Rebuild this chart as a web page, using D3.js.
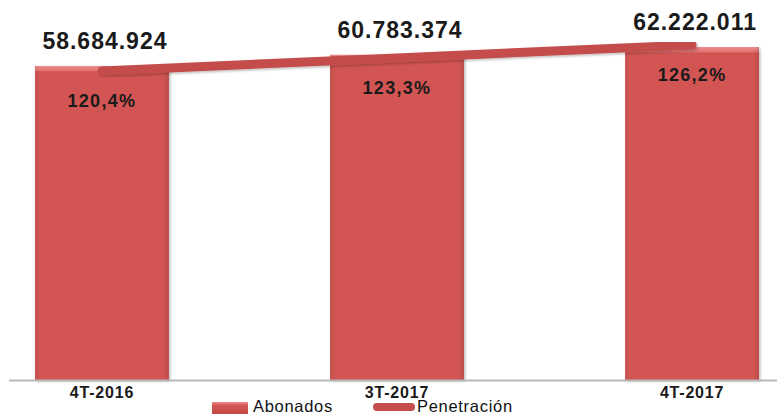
<!DOCTYPE html>
<html>
<head>
<meta charset="utf-8">
<script src="https://cdn.jsdelivr.net/npm/d3@7"></script>
<style>
  html, body { margin: 0; padding: 0; background: #fff; }
  svg { display: block; font-family: "Liberation Sans", Arial, sans-serif; }
</style>
</head>
<body>
<svg id="chart"></svg>
<script>
// Chart data
const categories = ['4T-2016', '3T-2017', '4T-2017'];
const abonados = [58684924, 60783374, 62222011];
const penetracion = [120.4, 123.3, 126.2];
const valueLabels = ['58.684.924', '60.783.374', '62.222.011'];
const pctLabels = ['120,4%', '123,3%', '126,2%'];
const legendLabels = ['Abonados', 'Penetración'];

const width = 777, height = 416;
const barColor = '#d25553';
const lineColor = '#c44d4c';

const svg = d3.select('#chart')
  .attr('width', width)
  .attr('height', height)
  .attr('viewBox', `0 0 ${width} ${height}`);

const defs = svg.append('defs');
const grad = defs.append('linearGradient')
  .attr('id', 'barGrad')
  .attr('x1', 0).attr('x2', 0).attr('y1', 0).attr('y2', 1);
grad.append('stop').attr('offset', '0').attr('stop-color', '#ee8c8a');
grad.append('stop').attr('offset', '0.014').attr('stop-color', '#e37573');
grad.append('stop').attr('offset', '0.018').attr('stop-color', barColor);
grad.append('stop').attr('offset', '1').attr('stop-color', barColor);

const sideGrad = defs.append('linearGradient')
  .attr('id', 'sideGrad')
  .attr('x1', 0).attr('x2', 1).attr('y1', 0).attr('y2', 0);
sideGrad.append('stop').attr('offset', '0').attr('stop-color', '#000').attr('stop-opacity', 0.06);
sideGrad.append('stop').attr('offset', '0.04').attr('stop-color', '#000').attr('stop-opacity', 0);
sideGrad.append('stop').attr('offset', '0.96').attr('stop-color', '#000').attr('stop-opacity', 0);
sideGrad.append('stop').attr('offset', '1').attr('stop-color', '#000').attr('stop-opacity', 0.12);

const legGrad = defs.append('linearGradient')
  .attr('id', 'legGrad')
  .attr('x1', 0).attr('x2', 0).attr('y1', 0).attr('y2', 1);
legGrad.append('stop').attr('offset', '0').attr('stop-color', '#ee8c8a');
legGrad.append('stop').attr('offset', '0.3').attr('stop-color', barColor);
legGrad.append('stop').attr('offset', '1').attr('stop-color', '#c24a48');

const shadow = defs.append('filter').attr('id', 'shadow')
  .attr('x', '-10%').attr('y', '-10%').attr('width', '130%').attr('height', '130%');
shadow.append('feDropShadow')
  .attr('dx', 1.5).attr('dy', 1.5).attr('stdDeviation', 1.2)
  .attr('flood-color', '#000').attr('flood-opacity', 0.25);

// Scales
const x = d3.scaleBand()
  .domain(categories)
  .range([9, 785])
  .paddingInner(0.546)
  .paddingOuter(0.088);

const y = d3.scaleLinear()
  .domain([0, 70080000])
  .range([380, 5]);

const y2 = d3.scaleLinear()
  .domain([51.5, 135.1])
  .range([380, 5]);

const cx = (d, i) => x(categories[i]) + x.bandwidth() / 2;

// Bars
const bars = svg.append('g');
bars.selectAll('rect.bar')
  .data(abonados)
  .join('rect')
  .attr('class', 'bar')
  .attr('x', (d, i) => x(categories[i]))
  .attr('y', d => y(d))
  .attr('width', x.bandwidth())
  .attr('height', d => y(0) - y(d))
  .attr('fill', 'url(#barGrad)')
  .attr('filter', 'url(#shadow)');

bars.selectAll('rect.side')
  .data(abonados)
  .join('rect')
  .attr('class', 'side')
  .attr('x', (d, i) => x(categories[i]))
  .attr('y', d => y(d))
  .attr('width', x.bandwidth())
  .attr('height', d => y(0) - y(d))
  .attr('fill', 'url(#sideGrad)');

// X axis
svg.append('line')
  .attr('x1', 9).attr('x2', width)
  .attr('y1', y(0) + 0.5).attr('y2', y(0) + 0.5)
  .attr('stroke', '#b8b8b8')
  .attr('stroke-width', 2);

const xAxis = svg.append('g')
  .attr('transform', `translate(0, ${y(0)})`)
  .call(d3.axisBottom(x).tickSize(0).tickPadding(7));
xAxis.select('.domain').remove();
xAxis.selectAll('text')
  .attr('font-family', '"Liberation Sans", Arial, sans-serif')
  .attr('font-size', '16px')
  .attr('font-weight', 'bold')
  .attr('letter-spacing', '0.8px')
  .attr('fill', '#1a1a1a');

// Penetration line
const line = d3.line()
  .x((d, i) => cx(d, i))
  .y(d => y2(d));

svg.append('path')
  .datum(penetracion)
  .attr('fill', 'none')
  .attr('stroke', lineColor)
  .attr('stroke-width', 9)
  .attr('stroke-linecap', 'round')
  .attr('filter', 'url(#shadow)')
  .attr('d', line);

// Value labels above the bars
svg.append('g').selectAll('text')
  .data(abonados)
  .join('text')
  .attr('x', (d, i) => cx(d, i) + 3)
  .attr('y', d => y(d) - 17)
  .attr('text-anchor', 'middle')
  .attr('font-size', '23px')
  .attr('font-weight', 'bold')
  .attr('letter-spacing', '1px')
  .attr('fill', '#1a1a1a')
  .text((d, i) => valueLabels[i]);

// Percentage labels below the line
svg.append('g').selectAll('text')
  .data(penetracion)
  .join('text')
  .attr('x', (d, i) => cx(d, i))
  .attr('y', d => y2(d) + 36)
  .attr('text-anchor', 'middle')
  .attr('font-size', '18px')
  .attr('font-weight', 'bold')
  .attr('letter-spacing', '1.3px')
  .attr('fill', '#1a1a1a')
  .text((d, i) => pctLabels[i]);

// Legend
const legend = svg.append('g');
legend.append('rect')
  .attr('x', 212).attr('y', 402)
  .attr('width', 36).attr('height', 12)
  .attr('fill', 'url(#legGrad)');
legend.append('text')
  .attr('x', 253).attr('y', 412)
  .attr('font-size', '16.5px')
  .attr('letter-spacing', '0.7px')
  .attr('fill', '#111')
  .text(legendLabels[0]);
legend.append('line')
  .attr('x1', 377).attr('x2', 411)
  .attr('y1', 407).attr('y2', 407)
  .attr('stroke', lineColor)
  .attr('stroke-width', 8)
  .attr('stroke-linecap', 'round');
legend.append('text')
  .attr('x', 417).attr('y', 412)
  .attr('font-size', '16.5px')
  .attr('letter-spacing', '0.7px')
  .attr('fill', '#111')
  .text(legendLabels[1]);
</script>
</body>
</html>
